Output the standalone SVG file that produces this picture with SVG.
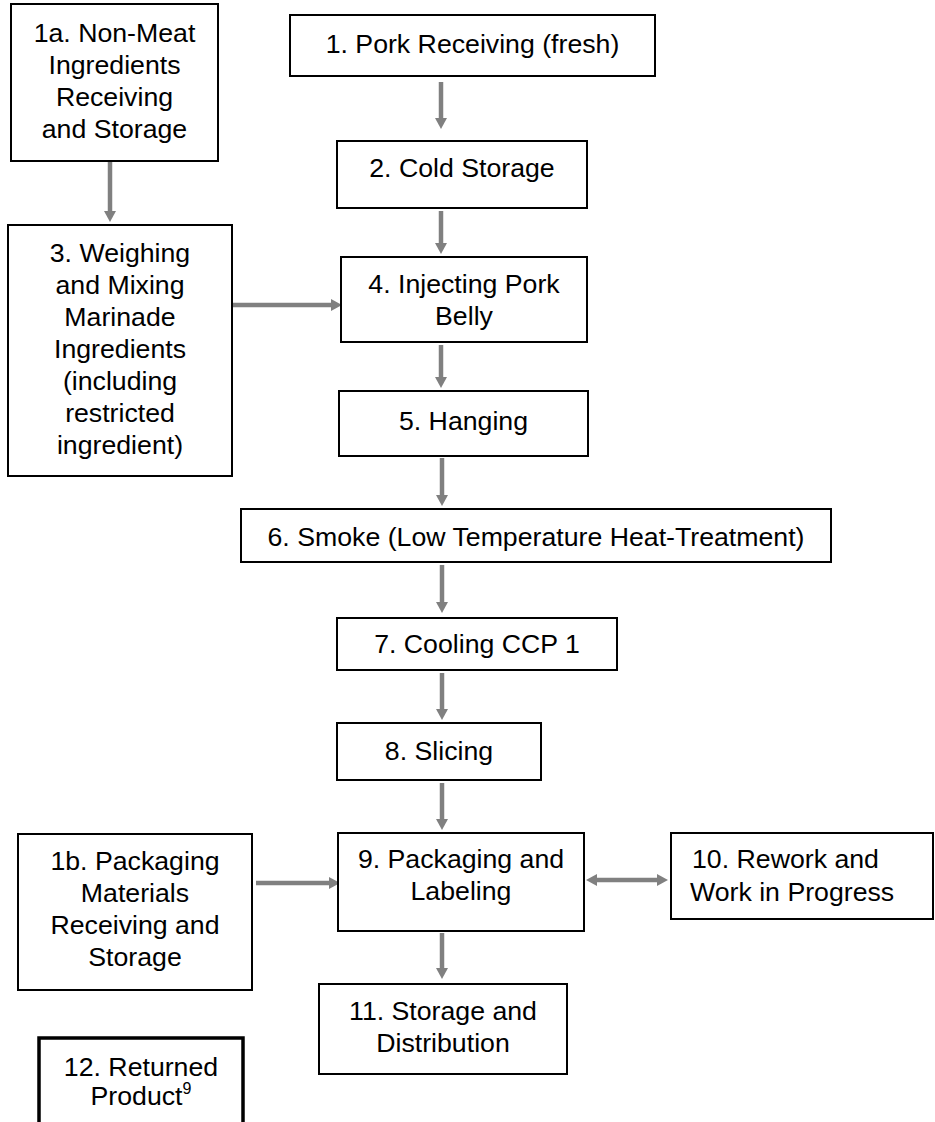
<svg xmlns="http://www.w3.org/2000/svg" width="935" height="1122" viewBox="0 0 935 1122">
<style>
.box{fill:#fff;stroke:#000;stroke-width:2}
.thick{stroke-width:3.5}
text{font-family:"Liberation Sans",Arial,sans-serif;font-size:26.7px;fill:#000}
.c{text-anchor:middle}
.conn line{stroke:#808080;stroke-width:4.5;marker-end:url(#ah)}
</style>
<defs>
<marker id="ah" markerUnits="userSpaceOnUse" markerWidth="12" markerHeight="12" refX="0" refY="6" orient="auto-start-reverse" viewBox="0 0 12 12">
<path d="M0,0 L11,6 L0,12 z" fill="#808080"/>
</marker>
</defs>
<rect width="935" height="1122" fill="#fff"/>
<g id="connectors" class="conn">
<line x1="441" y1="82" x2="441" y2="118"/>
<line x1="110" y1="162" x2="110" y2="211"/>
<line x1="441" y1="211" x2="441" y2="243"/>
<line x1="233" y1="305" x2="331" y2="305"/>
<line x1="441" y1="345" x2="441" y2="377"/>
<line x1="442" y1="458" x2="442" y2="495"/>
<line x1="442" y1="565" x2="442" y2="602"/>
<line x1="442" y1="673" x2="442" y2="709"/>
<line x1="442" y1="783" x2="442" y2="819"/>
<line x1="256" y1="883" x2="329" y2="883"/>
<line x1="597" y1="880" x2="657" y2="880" style="marker-start:url(#ah)"/>
<line x1="442" y1="933" x2="442" y2="968"/>
</g>
<g id="n1a"><rect class="box" x="11" y="4" width="207" height="157"/>
<text class="c" x="114.5" y="42">1a. Non-Meat</text><text class="c" x="114.5" y="74">Ingredients</text><text class="c" x="114.5" y="106">Receiving</text><text class="c" x="114.5" y="138">and Storage</text></g>
<g id="n1"><rect class="box" x="290" y="15" width="365" height="61"/>
<text class="c" x="472.5" y="53">1. Pork Receiving (fresh)</text></g>
<g id="n2"><rect class="box" x="337" y="141" width="250" height="67"/>
<text class="c" x="462" y="177">2. Cold Storage</text></g>
<g id="n3"><rect class="box" x="8" y="225" width="224" height="251"/>
<text class="c" x="120" y="262">3. Weighing</text><text class="c" x="120" y="294">and Mixing</text><text class="c" x="120" y="326">Marinade</text><text class="c" x="120" y="358">Ingredients</text><text class="c" x="120" y="390">(including</text><text class="c" x="120" y="422">restricted</text><text class="c" x="120" y="454">ingredient)</text></g>
<g id="n4"><rect class="box" x="341" y="257" width="246" height="85"/>
<text class="c" x="464" y="293">4. Injecting Pork</text><text class="c" x="464" y="325">Belly</text></g>
<g id="n5"><rect class="box" x="339" y="391" width="249" height="65"/>
<text class="c" x="463.5" y="430">5. Hanging</text></g>
<g id="n6"><rect class="box" x="241" y="509" width="590" height="53"/>
<text class="c" x="536" y="546">6. Smoke (Low Temperature Heat-Treatment)</text></g>
<g id="n7"><rect class="box" x="337" y="618" width="280" height="52"/>
<text class="c" x="477" y="653">7. Cooling CCP 1</text></g>
<g id="n8"><rect class="box" x="337" y="723" width="204" height="57"/>
<text class="c" x="439" y="760">8. Slicing</text></g>
<g id="n9"><rect class="box" x="338" y="833" width="246" height="98"/>
<text class="c" x="461" y="868">9. Packaging and</text><text class="c" x="461" y="900">Labeling</text></g>
<g id="n1b"><rect class="box" x="18" y="834" width="234" height="156"/>
<text class="c" x="135" y="870">1b. Packaging</text><text class="c" x="135" y="902">Materials</text><text class="c" x="135" y="934">Receiving and</text><text class="c" x="135" y="966">Storage</text></g>
<g id="n10"><rect class="box" x="671" y="833" width="262" height="86"/>
<text x="692" y="868">10. Rework and</text><text x="690" y="901">Work in Progress</text></g>
<g id="n11"><rect class="box" x="319" y="984" width="248" height="90"/>
<text class="c" x="443" y="1020">11. Storage and</text><text class="c" x="443" y="1052">Distribution</text></g>
<g id="n12"><rect class="box thick" x="39" y="1038" width="204" height="100"/>
<text class="c" x="141" y="1076">12. Returned</text><text class="c" x="141" y="1105">Product<tspan font-size="16" dy="-11">9</tspan></text></g>
</svg>
